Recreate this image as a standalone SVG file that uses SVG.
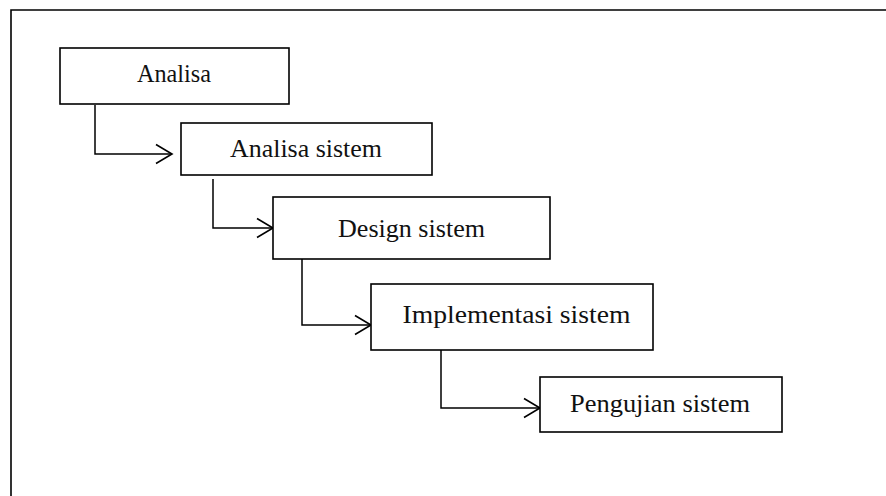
<svg xmlns="http://www.w3.org/2000/svg" width="886" height="496" viewBox="0 0 886 496">
<defs>
<style>
.box{fill:#fff;stroke:#000;stroke-width:1.6}
.lbl{font-family:"Liberation Serif","DejaVu Serif",serif;font-size:25px;fill:#111;text-anchor:middle}
.con{fill:none;stroke:#000;stroke-width:1.5}
</style>
<marker id="arr" markerUnits="userSpaceOnUse" markerWidth="20" markerHeight="22" refX="18" refY="10" orient="auto" viewBox="0 0 20 20" overflow="visible">
<path d="M2,0.5 L18,10 L2,19.5" fill="none" stroke="#000" stroke-width="1.6"/>
</marker>
</defs>
<rect width="886" height="496" fill="#fff"/>
<path d="M11,497 V10 H887" fill="none" stroke="#000" stroke-width="1.6"/>
<g id="connectors">
<path class="con" d="M95,105 V154 H172" marker-end="url(#arr)"/>
<path class="con" d="M213,179 V228 H273" marker-end="url(#arr)"/>
<path class="con" d="M302,259 V325 H371" marker-end="url(#arr)"/>
<path class="con" d="M441,350 V408 H540" marker-end="url(#arr)"/>
</g>
<g id="analisa">
<rect class="box" x="60" y="48" width="229" height="56"/>
<text class="lbl" x="174" y="82" textLength="74" lengthAdjust="spacingAndGlyphs">Analisa</text>
</g>
<g id="analisa-sistem">
<rect class="box" x="181" y="123" width="251" height="52"/>
<text class="lbl" x="306" y="157" textLength="152" lengthAdjust="spacingAndGlyphs">Analisa sistem</text>
</g>
<g id="design-sistem">
<rect class="box" x="273" y="197" width="277" height="62"/>
<text class="lbl" x="411.5" y="237" textLength="147" lengthAdjust="spacingAndGlyphs">Design sistem</text>
</g>
<g id="implementasi-sistem">
<rect class="box" x="371" y="284" width="282" height="66"/>
<text class="lbl" x="516.5" y="323" textLength="228" lengthAdjust="spacingAndGlyphs">Implementasi sistem</text>
</g>
<g id="pengujian-sistem">
<rect class="box" x="540" y="377" width="242" height="55"/>
<text class="lbl" x="660" y="412" textLength="180" lengthAdjust="spacingAndGlyphs">Pengujian sistem</text>
</g>
</svg>
